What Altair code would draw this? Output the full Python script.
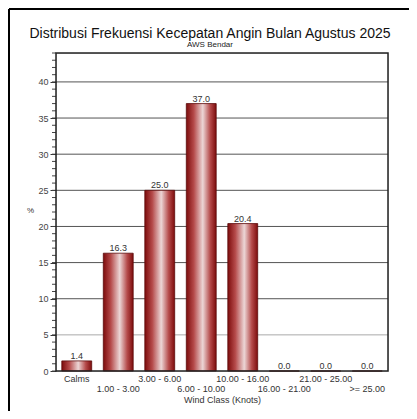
import altair as alt
import pandas as pd

categories = ["Calms", "1.00 - 3.00", "3.00 - 6.00", "6.00 - 10.00",
              "10.00 - 16.00", "16.00 - 21.00", "21.00 - 25.00", ">= 25.00"]
values = [1.4, 16.3, 25.0, 37.0, 20.4, 0.0, 0.0, 0.0]
lower_row = ["1.00 - 3.00", "6.00 - 10.00", "16.00 - 21.00", ">= 25.00"]
major_ticks = [0, 5, 10, 15, 20, 25, 30, 35, 40]
grid_lines = [5, 10, 15, 20, 25, 30, 35, 40]
minor_ticks = list(range(0, 45))
title_text = "Distribusi Frekuensi Kecepatan Angin Bulan Agustus 2025"
subtitle_text = "AWS Bendar"

df = pd.DataFrame({"cls": categories, "pct": values,
                   "lbl": [f"{v:.1f}" for v in values]})
grid_df = pd.DataFrame({"g": grid_lines})
minor_df = pd.DataFrame({"m": minor_ticks})
one = pd.DataFrame({"k": [0]})

W, H = 332, 318
FONT = "Liberation Sans"

gradient = alt.Gradient(
    gradient="linear", x1=0, x2=1, y1=0, y2=0,
    stops=[alt.GradientStop(color="#7d0c0c", offset=0),
           alt.GradientStop(color="#b54a4a", offset=0.25),
           alt.GradientStop(color="#ecd6d6", offset=0.55),
           alt.GradientStop(color="#b54a4a", offset=0.8),
           alt.GradientStop(color="#7d0c0c", offset=1)])

lower_js = "[" + ",".join(f"'{c}'" for c in lower_row) + "]"
yscale = alt.Scale(domain=[0, 44], nice=False)

x_axis = alt.Axis(title="Wind Class (Knots)", labelAngle=0,
                  labelFont=FONT, labelFontSize=9, labelColor="#333",
                  titleFont=FONT, titleFontSize=9, titleFontWeight="normal",
                  titleColor="#333", titlePadding=2,
                  labelExpr=f"indexof({lower_js}, datum.value) >= 0 ? ['', datum.value] : datum.value",
                  labelLineHeight=10, labelPadding=3,
                  ticks=False, domain=False)
xscale = alt.Scale(paddingInner=0.28, paddingOuter=0.14)

y_axis = alt.Axis(title="%", titleAngle=0, titleFont=FONT, titleFontSize=8,
                  titleFontWeight="normal", titleColor="#333",
                  titleX=-26, titleY=161, titleAlign="center",
                  values=major_ticks, labelOverlap=False,
                  labelFont=FONT, labelFontSize=9, labelColor="#444",
                  tickSize=6, tickColor="#333", grid=False,
                  domain=False, labelPadding=2)

grid = alt.Chart(grid_df).mark_rule(strokeWidth=1).encode(
    y=alt.Y("g:Q", scale=yscale, axis=y_axis, title="%"),
    color=alt.condition("datum.g == 5", alt.value("#aaaaaa"), alt.value("#555555")))

minor = alt.Chart(minor_df).mark_rule(color="#444", strokeWidth=1).encode(
    y=alt.Y("m:Q", scale=yscale, axis=y_axis, title="%"), x=alt.value(-4), x2=alt.value(0))

base = alt.Chart(df)

bars = base.mark_bar(fill=gradient, stroke="#5a0a0a", strokeWidth=0.8).encode(
    x=alt.X("cls:N", sort=categories, scale=xscale, axis=x_axis),
    y=alt.Y("pct:Q", scale=yscale, axis=y_axis, title="%"))

text = base.mark_text(dy=-5, font=FONT, fontSize=9, color="#333").encode(
    x=alt.X("cls:N", sort=categories, scale=xscale, axis=x_axis),
    y=alt.Y("pct:Q", scale=yscale, axis=y_axis, title="%"), text="lbl:N")

frame = alt.Chart(one).mark_rect(filled=False, stroke="#222", strokeWidth=1.5).encode(
    x=alt.value(0), x2=alt.value(W), y=alt.value(0), y2=alt.value(H))

border = alt.Chart(one).mark_rule(color="black", strokeWidth=2).encode(
    x=alt.value(-47), x2=alt.value(W + 40), y=alt.value(-44), y2=alt.value(-44))
border_left = alt.Chart(one).mark_rule(color="black", strokeWidth=2).encode(
    x=alt.value(-47), y=alt.value(-44), y2=alt.value(H + 50))

title = alt.Chart(one).mark_text(font=FONT, fontSize=14, color="#111",
                                 baseline="alphabetic").encode(
    x=alt.value(W / 2 - 12), y=alt.value(-15), text=alt.value(title_text))
subtitle = alt.Chart(one).mark_text(font=FONT, fontSize=8, color="#222",
                                    baseline="alphabetic").encode(
    x=alt.value(W / 2 - 12), y=alt.value(-6), text=alt.value(subtitle_text))

chart = alt.layer(grid, minor, bars, text, frame, border, border_left, title, subtitle).properties(
    width=W, height=H,
    autosize=alt.AutoSizeParams(type="none"),
    padding={"left": 48, "top": 45, "right": 21, "bottom": 40},
).configure_view(stroke=None).configure(background="white")

chart.save("out.html", embed_options={"renderer": "svg", "actions": False})
